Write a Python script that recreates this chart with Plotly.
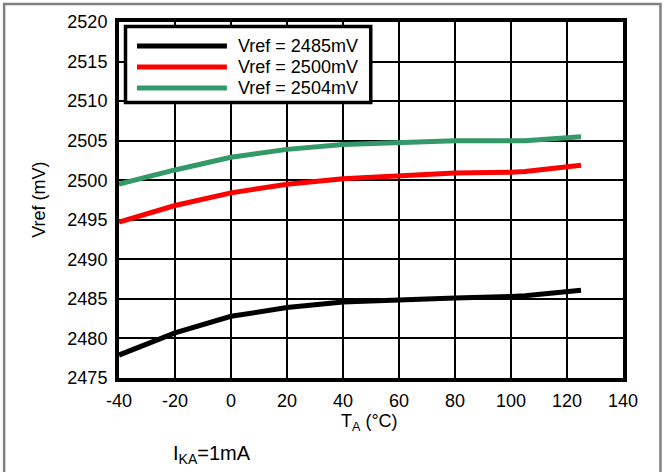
import plotly.graph_objects as go

temps = [-40, -20, 0, 20, 40, 60, 80, 100, 105, 125]
vref_2485 = [2477.9, 2480.7, 2482.8, 2483.9, 2484.6, 2484.9, 2485.1, 2485.3, 2485.4, 2486.1]
vref_2500 = [2494.7, 2496.8, 2498.4, 2499.5, 2500.2, 2500.6, 2500.9, 2501.0, 2501.1, 2501.9]
vref_2504 = [2499.5, 2501.3, 2502.9, 2503.9, 2504.5, 2504.8, 2505.0, 2505.0, 2505.0, 2505.5]
series_names = ["Vref = 2485mV", "Vref = 2500mV", "Vref = 2504mV"]
series_colors = ["#000000", "#ff0000", "#339966"]
x_ticks = [-40, -20, 0, 20, 40, 60, 80, 100, 120, 140]
y_ticks = [2475, 2480, 2485, 2490, 2495, 2500, 2505, 2510, 2515, 2520]

FONT = "Liberation Sans, Arial, sans-serif"

fig = go.Figure()
for name, vals, col in zip(series_names, [vref_2485, vref_2500, vref_2504], series_colors):
    fig.add_trace(go.Scatter(x=temps, y=vals, mode="lines", name=name,
                             line=dict(color=col, width=5), showlegend=False))

# plot-area geometry in pixels (for placing decorations)
L, R, T, B = 119, 623.5, 22, 378.5
W, H = R - L, B - T

def px_x(p):
    return (p - L) / W

def px_y(p):
    return (B - p) / H

shapes = []
# outer gray frame
shapes.append(dict(type="rect", xref="paper", yref="paper",
                   x0=px_x(4), x1=px_x(661), y0=px_y(490), y1=px_y(4),
                   line=dict(color="#808080", width=2.5), layer="below"))
# manual legend box
shapes.append(dict(type="rect", xref="paper", yref="paper",
                   x0=px_x(125.5), x1=px_x(371), y0=px_y(102.5), y1=px_y(26.5),
                   line=dict(color="black", width=3.5), fillcolor="white", layer="above"))
annotations = []
rows = [46, 67, 88]
for name, col, ry in zip(series_names, series_colors, rows):
    shapes.append(dict(type="line", xref="paper", yref="paper",
                       x0=px_x(137), x1=px_x(227), y0=px_y(ry), y1=px_y(ry),
                       line=dict(color=col, width=5), layer="above"))
    annotations.append(dict(xref="paper", yref="paper", x=px_x(236), y=px_y(ry),
                            text=name, showarrow=False, xanchor="left", yanchor="middle",
                            font=dict(family=FONT, size=18, color="black")))

annotations.append(dict(xref="paper", yref="paper", x=px_x(370), y=px_y(423),
                        text="T<sub>A</sub> (°C)", showarrow=False, xanchor="center", yanchor="middle",
                        font=dict(family=FONT, size=18, color="black")))
annotations.append(dict(xref="paper", yref="paper", x=px_x(212), y=px_y(455),
                        text="I<sub>KA</sub>=1mA", showarrow=False, xanchor="center", yanchor="middle",
                        font=dict(family=FONT, size=20, color="black")))
annotations.append(dict(xref="paper", yref="paper", x=px_x(39), y=px_y(200),
                        text="Vref (mV)", showarrow=False, textangle=-90,
                        xanchor="center", yanchor="middle",
                        font=dict(family=FONT, size=18, color="black")))

fig.update_layout(
    width=665, height=472,
    margin=dict(l=L, r=665 - R, t=T, b=472 - B, pad=0),
    paper_bgcolor="white", plot_bgcolor="white",
    font=dict(family=FONT, size=18, color="black"),
    shapes=shapes, annotations=annotations,
    showlegend=False,
)
fig.update_xaxes(range=[-40, 140], tickvals=x_ticks, ticktext=[str(v) for v in x_ticks],
                 showgrid=True, gridcolor="black", gridwidth=2,
                 showline=True, linecolor="black", linewidth=4, mirror=True,
                 ticks="", ticklabelstandoff=3, zeroline=False,
                 tickfont=dict(family=FONT, size=18))
fig.update_yaxes(range=[2475, 2520], tickvals=y_ticks, ticktext=[str(v) for v in y_ticks],
                 showgrid=True, gridcolor="black", gridwidth=2,
                 showline=True, linecolor="black", linewidth=4, mirror=True,
                 ticks="", ticklabelstandoff=4, zeroline=False,
                 tickfont=dict(family=FONT, size=18))

fig.write_html("out.html", config={"displayModeBar": False},
               post_script="document.body.style.margin='0';document.body.style.padding='0';")
